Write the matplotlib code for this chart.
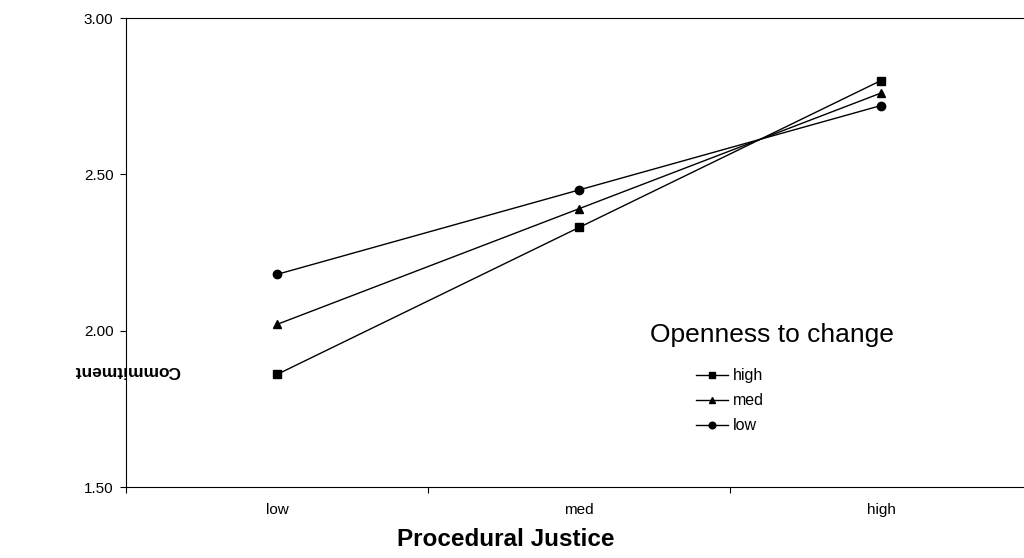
import matplotlib
matplotlib.use("Agg")
import matplotlib.pyplot as plt

plt.rcParams['font.family'] = ['Liberation Sans', 'DejaVu Sans']

categories = ["low", "med", "high"]
series_names = ["high", "med", "low"]
high_vals = [1.86, 2.33, 2.80]
med_vals = [2.02, 2.39, 2.76]
low_vals = [2.18, 2.45, 2.72]
y_ticks = [1.50, 2.00, 2.50, 3.00]

fig = plt.figure(figsize=(10.24, 5.58), dpi=100)
ax = fig.add_axes([126/1024, 71/558, 906/1024, 469/558])

x = [0.5, 1.5, 2.5]
markers = ["s", "^", "o"]
for name, vals, m in zip(series_names, [high_vals, med_vals, low_vals], markers):
    ax.plot(x, vals, color="black", lw=1.0, marker=m, markersize=6, label=name)

ax.set_xlim(0, 3)
ax.set_ylim(1.5, 3.0)
ax.set_yticks(y_ticks)
ax.set_yticklabels([f"{v:.2f}" for v in y_ticks], fontsize=11)
ax.set_xticks([0, 1, 2, 3])
ax.set_xticklabels([])
ax.set_xticks(x, minor=True)
ax.set_xticklabels(categories, minor=True, fontsize=11)
ax.tick_params(axis='x', which='minor', length=0, pad=11.5)
ax.tick_params(axis='x', which='major', direction='out', length=4, width=0.8)
ax.tick_params(axis='y', direction='out', length=4, width=0.8, pad=5)
ax.spines['right'].set_visible(False)
for s in ['left', 'bottom', 'top']:
    ax.spines[s].set_linewidth(0.8)

fig.text(506/1024, 1 - 540/558, "Procedural Justice", fontsize=17.5,
         fontweight='bold', ha='center', va='center')
fig.text(127/1024, 1 - 370/558, "Commitment", rotation=180, fontsize=12.5,
         fontweight='bold', ha='center', va='center', zorder=0)

fig.text(650/1024, 1 - 335/558, "Openness to change", fontsize=19,
         ha='left', va='center')
ax.legend(loc='upper left', bbox_to_anchor=(690/1024, 1 - 362/558),
          bbox_transform=fig.transFigure, frameon=False, fontsize=11.5,
          handlelength=2.0, handletextpad=0.3, labelspacing=0.62,
          borderaxespad=0, markerscale=0.8)

fig.savefig("out.png", dpi=100)
